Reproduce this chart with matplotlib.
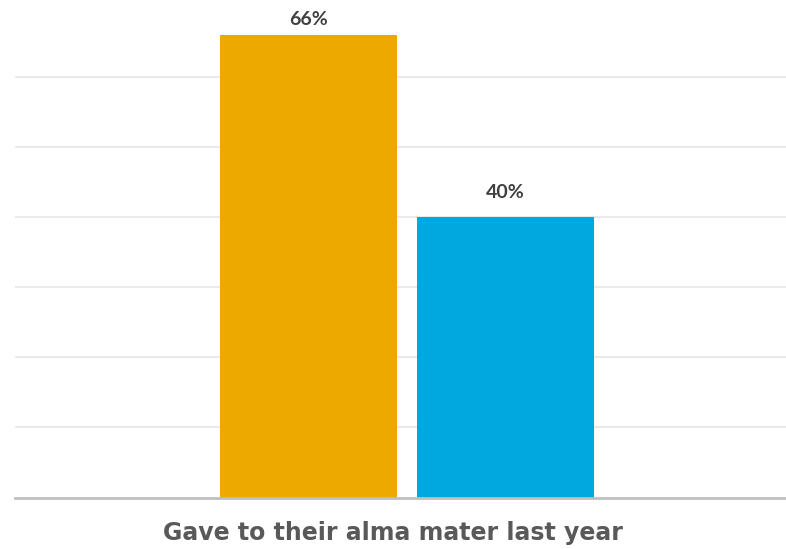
import matplotlib.pyplot as plt

category = "Gave to their alma mater last year"
series = ["Group A", "Group B"]
values = [0.66, 0.40]
colors = ["#EDA900", "#00A8E0"]

W, H = 786, 549
fig = plt.figure(figsize=(W / 100, H / 100), dpi=100)
# axes placed in pixel terms: left 15, right 786, bottom 497.5, top 0
ax = fig.add_axes([15 / W, (H - 497.5) / H, (786 - 15) / W, 497.5 / H])

bar_w = 1.0
gap = 0.113
xs = [-(bar_w + gap) / 2, (bar_w + gap) / 2]
ax.bar(xs, values, width=bar_w, color=colors, zorder=2)

# label offsets above bar tops, in pixels (top label is squeezed by the frame)
offsets_px = [16, 24.5]
for x, v, off in zip(xs, values, offsets_px):
    ax.annotate(f"{v:.0%}", (x, v), xytext=(0, off * 0.72), textcoords="offset points",
                ha="center", va="center", fontsize=14, fontweight="bold",
                color="#404040", family="Lato")

ax.set_xlim(-2.213, 2.143)
ax.set_ylim(0, 0.71)
ax.set_yticks([0.1, 0.2, 0.3, 0.4, 0.5, 0.6])
ax.yaxis.grid(True, color="#E6E6E6", linewidth=1.2, zorder=0)
ax.tick_params(left=False, labelleft=False, bottom=False, labelbottom=False)
for s in ["top", "right", "left"]:
    ax.spines[s].set_visible(False)
ax.spines["bottom"].set_color("#BFBFBF")
ax.spines["bottom"].set_linewidth(2)

fig.text(0.5, 1 - 533 / H, category, ha="center", va="center",
         fontsize=17, fontweight="bold", color="#595959", family="DejaVu Sans")

fig.savefig("out.png", dpi=100)
